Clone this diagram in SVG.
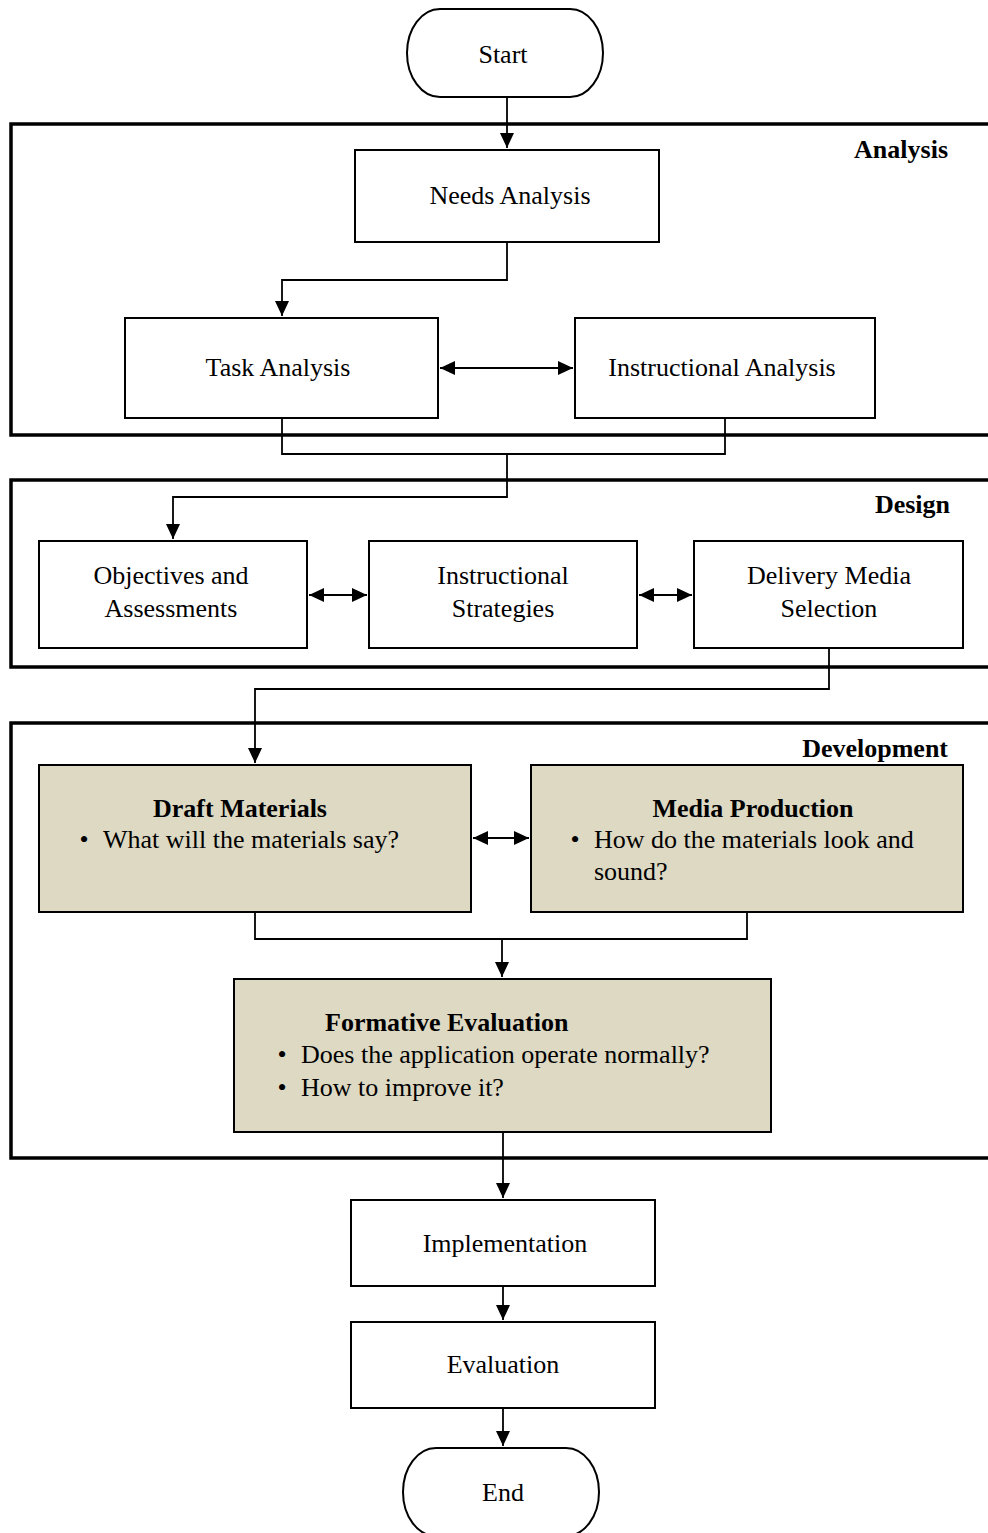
<svg xmlns="http://www.w3.org/2000/svg" width="988" height="1533" viewBox="0 0 988 1533">
<style>
text{font-family:"Liberation Serif","Times New Roman",serif;font-size:26px;fill:#000}
.b{font-weight:bold}
.m{text-anchor:middle}
.e{text-anchor:end}
.sec{fill:none;stroke:#000;stroke-width:3.5}
.box{fill:#fff;stroke:#000;stroke-width:2}
.tan{fill:#DDD9C3;stroke:#000;stroke-width:2}
.c{fill:none;stroke:#000;stroke-width:1.8}
</style>
<defs>
<marker id="ah" markerUnits="userSpaceOnUse" markerWidth="16" markerHeight="14" viewBox="0 0 16 14" refX="15" refY="7" orient="auto-start-reverse">
<path d="M0,0 L15,7 L0,14 Z" fill="#000"/>
</marker>
</defs>
<rect width="988" height="1533" fill="#fff"/>
<g id="sections">
<rect id="analysis-section" class="sec" x="11" y="124" width="995" height="311"/>
<rect id="design-section" class="sec" x="11" y="480" width="995" height="187"/>
<rect id="development-section" class="sec" x="11" y="723" width="995" height="435"/>
<text class="b e" x="948" y="158">Analysis</text>
<text class="b e" x="950" y="513">Design</text>
<text class="b e" x="948" y="757">Development</text>
</g>
<g id="connectors">
<path class="c" d="M507,97 V148" marker-end="url(#ah)"/>
<path class="c" d="M507,242 V280 H282 V316" marker-end="url(#ah)"/>
<path class="c" d="M440,368 H573" marker-start="url(#ah)" marker-end="url(#ah)"/>
<path class="c" d="M282,418 V454 H725 V418"/>
<path class="c" d="M507,454 V497 H173 V539" marker-end="url(#ah)"/>
<path class="c" d="M309,595 H367" marker-start="url(#ah)" marker-end="url(#ah)"/>
<path class="c" d="M639,595 H692" marker-start="url(#ah)" marker-end="url(#ah)"/>
<path class="c" d="M829,648 V689 H255 V763" marker-end="url(#ah)"/>
<path class="c" d="M473,838 H529" marker-start="url(#ah)" marker-end="url(#ah)"/>
<path class="c" d="M255,912 V939 H747 V912"/>
<path class="c" d="M502,939 V977" marker-end="url(#ah)"/>
<path class="c" d="M503,1132 V1198" marker-end="url(#ah)"/>
<path class="c" d="M503,1286 V1320" marker-end="url(#ah)"/>
<path class="c" d="M503,1408 V1446" marker-end="url(#ah)"/>
</g>
<g id="start">
<rect class="box" x="407" y="9" width="196" height="88" rx="33" ry="44"/>
<text class="m" x="503" y="63">Start</text>
</g>
<g id="needs-analysis">
<rect class="box" x="355" y="150" width="304" height="92"/>
<text class="m" x="510" y="204">Needs Analysis</text>
</g>
<g id="task-analysis">
<rect class="box" x="125" y="318" width="313" height="100"/>
<text class="m" x="278" y="376">Task Analysis</text>
</g>
<g id="instructional-analysis">
<rect class="box" x="575" y="318" width="300" height="100"/>
<text class="m" x="722" y="376">Instructional Analysis</text>
</g>
<g id="objectives">
<rect class="box" x="39" y="541" width="268" height="107"/>
<text class="m" x="171" y="584">Objectives and</text>
<text class="m" x="171" y="617">Assessments</text>
</g>
<g id="instructional-strategies">
<rect class="box" x="369" y="541" width="268" height="107"/>
<text class="m" x="503" y="584">Instructional</text>
<text class="m" x="503" y="617">Strategies</text>
</g>
<g id="delivery-media">
<rect class="box" x="694" y="541" width="269" height="107"/>
<text class="m" x="829" y="584">Delivery Media</text>
<text class="m" x="829" y="617">Selection</text>
</g>
<g id="draft-materials">
<rect class="tan" x="39" y="765" width="432" height="147"/>
<text class="b m" x="240" y="817">Draft Materials</text>
<text class="m" x="84" y="848">•</text>
<text x="103" y="848">What will the materials say?</text>
</g>
<g id="media-production">
<rect class="tan" x="531" y="765" width="432" height="147"/>
<text class="b m" x="753" y="817">Media Production</text>
<text class="m" x="575" y="848">•</text>
<text x="594" y="848">How do the materials look and</text>
<text x="594" y="880">sound?</text>
</g>
<g id="formative-evaluation">
<rect class="tan" x="234" y="979" width="537" height="153"/>
<text class="b" x="325" y="1031">Formative Evaluation</text>
<text class="m" x="282" y="1063">•</text>
<text x="301" y="1063">Does the application operate normally?</text>
<text class="m" x="282" y="1096">•</text>
<text x="301" y="1096">How to improve it?</text>
</g>
<g id="implementation">
<rect class="box" x="351" y="1200" width="304" height="86"/>
<text class="m" x="505" y="1252">Implementation</text>
</g>
<g id="evaluation">
<rect class="box" x="351" y="1322" width="304" height="86"/>
<text class="m" x="503" y="1373">Evaluation</text>
</g>
<g id="end">
<rect class="box" x="403" y="1448" width="196" height="88" rx="33" ry="44"/>
<text class="m" x="503" y="1501">End</text>
</g>
</svg>
